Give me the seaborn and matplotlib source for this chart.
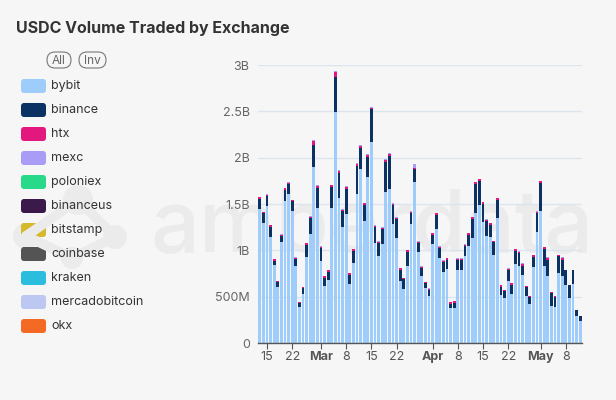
import numpy as np
import pandas as pd
import matplotlib.pyplot as plt
import seaborn as sns
from matplotlib.patches import FancyBboxPatch, Circle

# daily volumes in millions USD, 2024-02-13 .. 2024-05-12
dates = pd.date_range("2024-02-13", "2024-05-12", freq="D")

bybit = [1449, 1297, 1477, 1146, 840, 602, 1088, 1532, 1607, 1423,
         836, 386, 533, 930, 1171, 1899, 1459, 890, 620, 685,
         1456, 2497, 1568, 1254, 1391, 641, 865, 1604, 1874, 1319,
         1795, 2169, 1074, 937, 1063, 1629, 1665, 1279, 1128, 674,
         587, 836, 1286, 1741, 984, 721, 591, 505, 1063, 1232,
         912, 768, 800, 378, 378, 786, 793, 937, 1045, 1135,
         1405, 1485, 1305, 1153, 1146, 955, 1351, 519, 483, 667,
         530, 854, 836, 739, 508, 422, 818, 1196, 1423, 836,
         728, 404, 386, 757, 728, 623, 483, 641, 288, 234]
binance = [108, 101, 108, 108, 50, 54, 65, 119, 108, 105,
           72, 47, 58, 130, 173, 241, 213, 130, 86, 86,
           227, 375, 263, 169, 274, 97, 126, 306, 234, 173,
           216, 353, 177, 137, 166, 324, 357, 205, 213, 115,
           101, 148, 115, 133, 94, 83, 54, 72, 101, 151,
           115, 101, 97, 47, 58, 105, 105, 105, 119, 205,
           306, 259, 198, 159, 130, 133, 195, 90, 79, 119,
           97, 141, 130, 97, 94, 72, 115, 202, 303, 180,
           173, 133, 108, 187, 173, 166, 141, 148, 65, 54]
htx = [16, 13, 16, 16, 13, 10, 16, 19, 16, 13,
       13, 10, 10, 16, 19, 45, 22, 19, 16, 16,
       19, 50, 25, 13, 19, 13, 19, 23, 19, 16,
       19, 12, 16, 16, 16, 22, 19, 16, 13, 16,
       13, 16, 16, 18, 16, 19, 13, 10, 19, 16,
       13, 16, 16, 13, 13, 16, 13, 16, 19, 19,
       22, 22, 16, 16, 16, 13, 16, 13, 10, 13,
       16, 16, 16, 16, 13, 13, 16, 16, 19, 16,
       16, 10, 10, 4, 16, 2, 4, 2, 4, 4]
mexc = [6, 5, 6, 6, 5, 4, 6, 6, 6, 5,
        5, 4, 4, 6, 6, 8, 7, 6, 6, 6,
        6, 11, 7, 5, 6, 5, 6, 6, 6, 6,
        6, 13, 6, 6, 6, 7, 6, 6, 5, 6,
        5, 6, 6, 36, 6, 6, 5, 4, 6, 6,
        5, 6, 6, 5, 5, 6, 5, 6, 6, 6,
        7, 7, 6, 6, 6, 5, 6, 5, 4, 5,
        6, 6, 6, 6, 5, 5, 6, 6, 6, 6,
        6, 4, 4, 3, 6, 2, 3, 2, 3, 3]

exchanges = ["bybit", "binance", "htx", "mexc", "poloniex", "binanceus",
             "bitstamp", "coinbase", "kraken", "mercadobitcoin", "okx"]
colors = ["#9ecdfb", "#0b3263", "#e2187f", "#a99cf7", "#28d98a", "#3b1a4b",
          "#d3b92b", "#545454", "#2bbddd", "#bcc7f2", "#f46a24"]

tick_dates = ["2024-02-15", "2024-02-22", "2024-03-01", "2024-03-08",
              "2024-03-15", "2024-03-22", "2024-04-01", "2024-04-08",
              "2024-04-15", "2024-04-22", "2024-05-01", "2024-05-08"]
tick_labels = ["15", "22", "Mar", "8", "15", "22", "Apr", "8", "15", "22", "May", "8"]
y_ticks = [0, 0.5e9, 1e9, 1.5e9, 2e9, 2.5e9, 3e9]
y_labels = ["0", "500M", "1B", "1.5B", "2B", "2.5B", "3B"]

sns.set_theme(style="white")
plt.rcParams["font.family"] = ["Inter", "DejaVu Sans"]

bg_color = "#f6f6f6"
fig = plt.figure(figsize=(6.16, 4.0), dpi=100, facecolor=bg_color)

# background layer: watermark, title, legend (pixel coordinates)
bg = fig.add_axes([0, 0, 1, 1], zorder=-1)
bg.set_xlim(0, 616)
bg.set_ylim(400, 0)
bg.axis("off")
bg.set_facecolor(bg_color)

wm = "#ebebeb"
bg.text(372, 252, "amberdata", fontsize=62, color=wm, ha="center", va="baseline",
        fontweight="medium")
# faint logo next to the watermark
for cx, cy, r in [(78, 200, 15), (26, 236, 13), (115, 237, 12), (72, 258, 11)]:
    bg.add_patch(Circle((cx, cy), r, color=wm, lw=0))
bg.plot([26, 78, 115], [236, 200, 237], color=wm, lw=7, solid_capstyle="round")
bg.plot([26, 72, 115], [236, 258, 237], color=wm, lw=7, solid_capstyle="round")

bg.text(16, 28, "USDC Volume Traded by Exchange", fontsize=11.5, fontweight="bold",
        color="#333333", va="center", ha="left")

for label, cx, w in [("All", 59, 24), ("Inv", 92.5, 27)]:
    bg.add_patch(FancyBboxPatch((cx - w / 2, 52), w, 16,
                                boxstyle="round,pad=0,rounding_size=8",
                                fc="none", ec="#777777", lw=0.8))
    bg.text(cx, 60.5, label, fontsize=8.5, color="#666666", ha="center", va="center")

for i, (name, col) in enumerate(zip(exchanges, colors)):
    y = 86 + 24 * i
    bg.add_patch(FancyBboxPatch((21, y - 7), 25, 14,
                                boxstyle="round,pad=0,rounding_size=3", fc=col, lw=0))
    bg.text(51, y, name, fontsize=9, color="#333333", va="center", ha="left")

# main chart
ax = fig.add_axes([258 / 616, 57 / 400, 324 / 616, 278 / 400])
ax.set_facecolor("none")

layers = np.array([bybit, binance, htx, mexc], dtype=float) * 1e6
tops = np.cumsum(layers, axis=0)
pos = np.arange(len(dates))
for k in range(len(layers) - 1, -1, -1):
    sns.barplot(x=pos, y=tops[k], color=colors[k], saturation=1, width=0.8,
                linewidth=0, errorbar=None, ax=ax)

ax.set_xlim(-0.5, len(dates) - 0.5)
ax.set_ylim(0, 3e9)
ax.set_yticks(y_ticks)
ax.set_yticklabels(y_labels)
ax.tick_params(axis="y", length=0, pad=6, labelsize=9, labelcolor="#666666")
ax.grid(axis="y", color="#dde3ef", lw=1)
ax.set_axisbelow(True)

tick_pos = [dates.get_loc(pd.Timestamp(d)) for d in tick_dates]
ax.set_xticks(tick_pos)
ax.set_xticklabels(tick_labels)
ax.tick_params(axis="x", length=4, width=0.8, color="#555555", pad=2,
               labelsize=9, labelcolor="#555555", bottom=True)
for t in ax.get_xticklabels():
    if t.get_text() in ("Mar", "Apr", "May"):
        t.set_fontweight("bold")

for s in ["top", "right", "left"]:
    ax.spines[s].set_visible(False)
ax.spines["bottom"].set_color("#555555")
ax.spines["bottom"].set_linewidth(1)
ax.set_xlabel("")
ax.set_ylabel("")

fig.savefig("out.png", dpi=100, facecolor=bg_color)
